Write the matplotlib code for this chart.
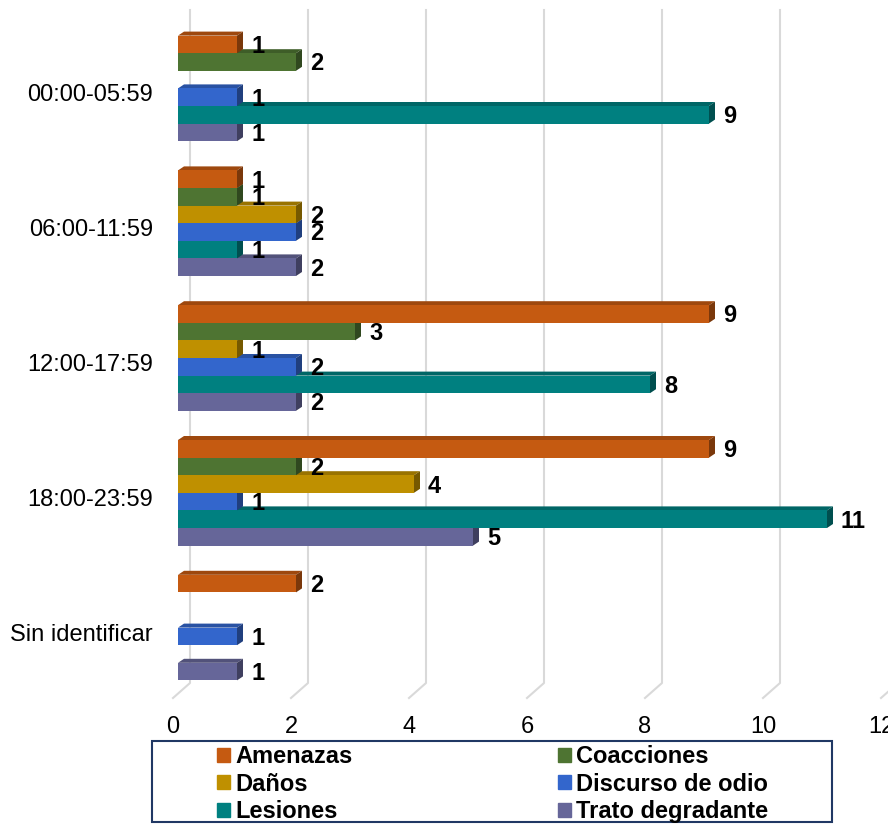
import matplotlib.pyplot as plt
from matplotlib.patches import Polygon, Rectangle
from matplotlib.transforms import ScaledTranslation

plt.rcParams['font.family'] = ['Liberation Sans', 'DejaVu Sans']

categories = ['00:00-05:59', '06:00-11:59', '12:00-17:59', '18:00-23:59', 'Sin identificar']
series = ['Amenazas', 'Coacciones', 'Daños', 'Discurso de odio', 'Lesiones', 'Trato degradante']
colors = ['#C55A11', '#4E7432', '#BF9000', '#3366CC', '#008080', '#666699']

amenazas = [1, 1, 9, 9, 2]
coacciones = [2, 1, 3, 2, 0]
danos = [0, 2, 1, 4, 0]
discurso = [1, 2, 2, 1, 1]
lesiones = [9, 1, 8, 11, 0]
trato = [1, 2, 2, 5, 1]
values = [amenazas, coacciones, danos, discurso, lesiones, trato]
xticks = [0, 2, 4, 6, 8, 10, 12]

W, H = 888, 824
fig = plt.figure(figsize=(W / 100, H / 100), dpi=100)
ax = fig.add_axes([178 / W, 1 - 695 / H, 708 / W, 674 / H])
ax.set_xlim(0, 12)
ax.set_ylim(4.5, -0.5)
PX = 12 / 708   # data units per pixel
PY = 5 / 674


def shade(c, f):
    r, g, b = [int(c[k:k + 2], 16) for k in (1, 3, 5)]
    return (r * f / 255, g * f / 255, b * f / 255)


h = 17.6 * PY
dx, dy = 6 * PX, 4 * PY
for j in range(len(series) - 1, -1, -1):
    centers = [i + (j - 2.5) * h for i in range(len(categories))]
    z = 10 - j
    ax.barh(centers, values[j], height=h, color=colors[j], linewidth=0, zorder=z + 0.5)
    for yc, v in zip(centers, values[j]):
        if v == 0:
            continue
        yt, yb = yc - h / 2, yc + h / 2
        ax.add_patch(Polygon([(0, yt), (v, yt), (v + dx, yt - dy), (dx, yt - dy)],
                             closed=True, color=shade(colors[j], 0.8), lw=0, zorder=z))
        ax.add_patch(Polygon([(v, yt), (v, yb), (v + dx, yb - dy), (v + dx, yt - dy)],
                             closed=True, color=shade(colors[j], 0.62), lw=0, zorder=z))
        ax.text(v + 14 * PX, yc + 2 * PY, str(v), fontsize=17, fontweight='bold',
                ha='left', va='center', zorder=20, clip_on=False)

# back wall gridlines and floor
for v in xticks:
    ax.plot([v + 12 * PX, v + 12 * PX, v - 5 * PX],
            [-0.5 - 11 * PY, 4.5 - 12 * PY, 4.5 + 3 * PY],
            color='#D9D9D9', lw=1.5, zorder=1, clip_on=False)

ax.set_xticks(xticks)
ax.set_yticks(range(len(categories)))
ax.set_yticklabels(categories)
ax.tick_params(axis='x', length=0, pad=15, labelsize=17)
ax.tick_params(axis='y', length=0, pad=18, labelsize=17)
for lbl in ax.get_xticklabels():
    lbl.set_transform(lbl.get_transform() + ScaledTranslation(-0.05, 0, fig.dpi_scale_trans))
for lbl in ax.get_yticklabels():
    lbl.set_transform(lbl.get_transform() + ScaledTranslation(0, -0.045, fig.dpi_scale_trans))
for s in ax.spines.values():
    s.set_visible(False)
ax.patch.set_visible(False)

order = [0, 2, 4, 1, 3, 5]
handles = [Rectangle((0, 0), 1, 1, color=colors[k]) for k in order]
fig.legend(handles, [series[k] for k in order], ncol=2, loc='upper left',
           bbox_to_anchor=(217 / W, 1 - 745 / H), frameon=False,
           prop={'weight': 'bold', 'size': 17}, handlelength=0.55, handleheight=0.55,
           handletextpad=0.22, columnspacing=8.69, labelspacing=0.2,
           borderpad=0, borderaxespad=0)
fig.add_artist(Rectangle((152 / W, 1 - 822 / H), 680 / W, 81 / H, transform=fig.transFigure,
                         fill=False, edgecolor='#203864', lw=1.5))

plt.savefig('out.png', dpi=100)
